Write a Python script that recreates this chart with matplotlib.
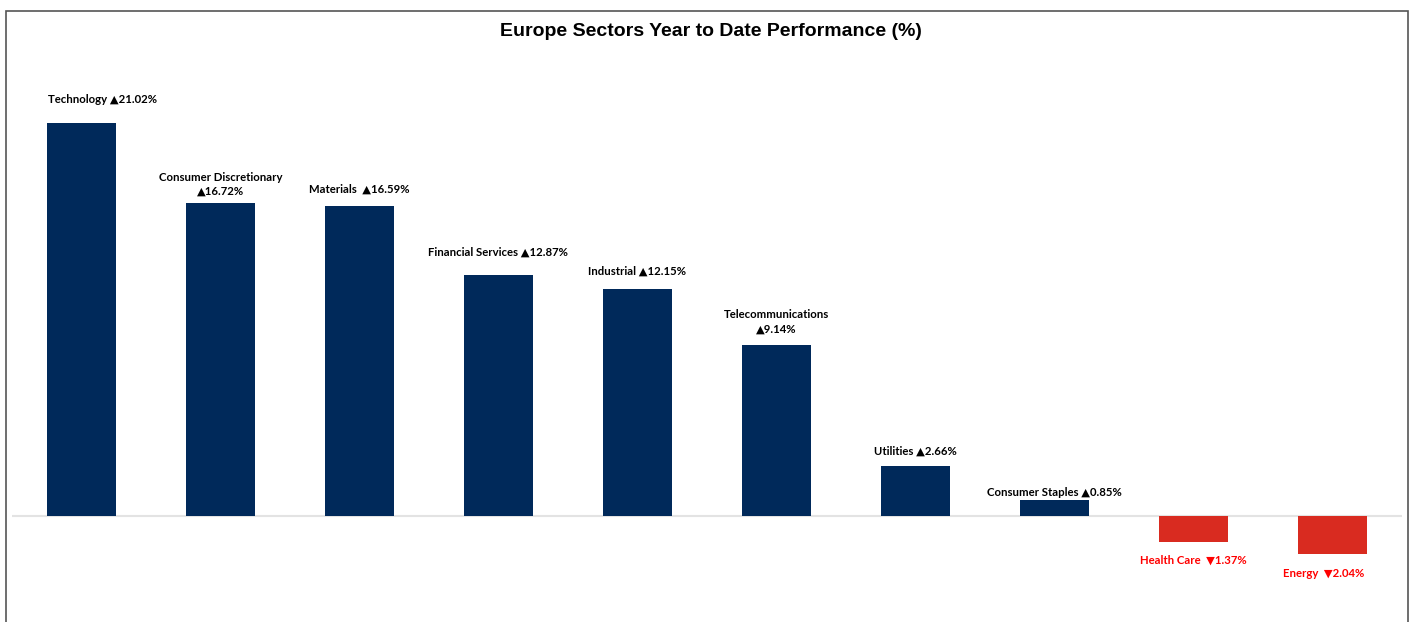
import matplotlib.pyplot as plt
from matplotlib.patches import Rectangle

sectors = ["Technology", "Consumer Discretionary", "Materials", "Financial Services",
           "Industrial", "Telecommunications", "Utilities", "Consumer Staples",
           "Health Care", "Energy"]
ytd = [21.02, 16.72, 16.59, 12.87, 12.15, 9.14, 2.66, 0.85, -1.37, -2.04]

# label layout tweaks (pixel offsets from bar end, line breaks)
wrap = [False, True, False, False, False, True, False, False, False, False]
dy = [23, 19, 17, 23, 18, 23, 15, 8, -19, -19]
dx = [21, 0, 0, 0, 0, 0, 0, 0, 0, -9]

navy = "#00295A"
red = "#D92B20"

fig = plt.figure(figsize=(14.15, 6.22), dpi=100)
fig.patches.append(Rectangle((6 / 1415, -0.1), (1408 - 6) / 1415, 1.1 - 11 / 622,
                             transform=fig.transFigure, fill=False,
                             edgecolor="#555555", linewidth=1.2))

# axes from x=12..1402 px, y=60..622 px
ax = fig.add_axes([12 / 1415, 0, 1390 / 1415, 562 / 622])
px_per_unit = 18.7
top = (516 - 60) / px_per_unit
bottom = -(622 - 516) / px_per_unit
ax.set_ylim(bottom, top)
ax.set_xlim(-0.5, 9.5)

x = list(range(len(sectors)))
colors = [navy if v >= 0 else red for v in ytd]
ax.bar(x, ytd, width=0.5, color=colors, zorder=2)
ax.axhline(0, color="#e3e3e3", linewidth=1.5, zorder=1)

for i, (name, v) in enumerate(zip(sectors, ytd)):
    arrow = "\u25B2" if v >= 0 else "\u25BC"
    sep = "\n" if wrap[i] else ("  " if name in ("Materials", "Health Care", "Energy") else " ")
    label = f"{name}{sep}{arrow}{abs(v):.2f}%"
    ax.annotate(label, (i, v), xytext=(dx[i], dy[i]), textcoords="offset pixels",
                ha="center", va="center", fontsize=8.2, fontweight="bold",
                family=["Lato", "DejaVu Sans"], linespacing=1.4,
                color="black" if v >= 0 else "#FF0000")

ax.axis("off")
fig.text(711 / 1415, 1 - 31 / 622, "Europe Sectors Year to Date Performance (%)",
         ha="center", va="center", fontsize=14, fontweight="bold",
         family="Liberation Sans")

fig.savefig("out.png", dpi=100)
